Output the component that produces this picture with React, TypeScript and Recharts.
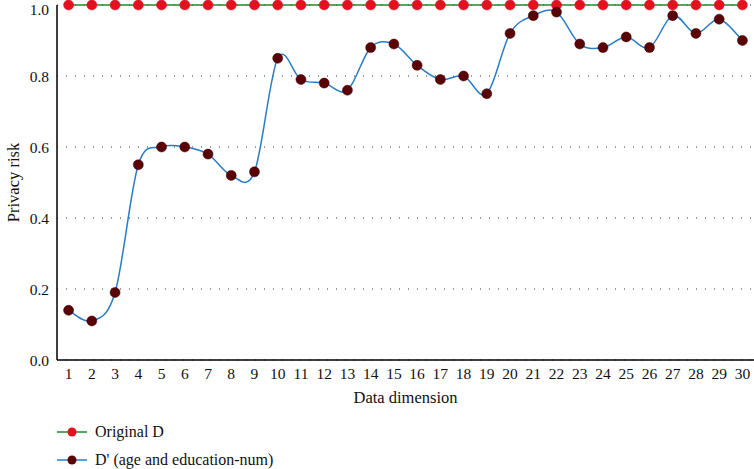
import { LineChart, Line, XAxis, YAxis, CartesianGrid, Legend } from "recharts";

const dimensions = Array.from({ length: 30 }, (_, i) => String(i + 1));

const originalRisk = [
  1, 1, 1, 1, 1, 1, 1, 1, 1, 1, 1, 1, 1, 1, 1,
  1, 1, 1, 1, 1, 1, 1, 1, 1, 1, 1, 1, 1, 1, 1,
];

const anonymisedRisk = [
  0.14, 0.11, 0.19, 0.55, 0.6, 0.6, 0.58, 0.52, 0.53, 0.85,
  0.79, 0.78, 0.76, 0.88, 0.89, 0.83, 0.79, 0.8, 0.75, 0.92,
  0.97, 0.98, 0.89, 0.88, 0.91, 0.88, 0.97, 0.92, 0.96, 0.9,
];

const yTicks = [0, 0.2, 0.4, 0.6, 0.8, 1.0];

const data = dimensions.map((d, i) => ({
  dim: d,
  original: originalRisk[i],
  anon: anonymisedRisk[i],
}));

const FONT = '"Liberation Serif", "DejaVu Serif", serif';

// catmull-rom style smoothing (passes through every point, overshoots a bit)
function smoothCurve(context: any) {
  let pts: [number, number][] = [];
  return {
    areaStart() {},
    areaEnd() {},
    lineStart() {
      pts = [];
    },
    lineEnd() {
      if (!pts.length) return;
      context.moveTo(pts[0][0], pts[0][1]);
      for (let i = 0; i < pts.length - 1; i++) {
        const p0 = pts[Math.max(i - 1, 0)];
        const p1 = pts[i];
        const p2 = pts[i + 1];
        const p3 = pts[Math.min(i + 2, pts.length - 1)];
        context.bezierCurveTo(
          p1[0] + (p2[0] - p0[0]) / 6,
          p1[1] + (p2[1] - p0[1]) / 6,
          p2[0] - (p3[0] - p1[0]) / 6,
          p2[1] - (p3[1] - p1[1]) / 6,
          p2[0],
          p2[1]
        );
      }
    },
    point(x: number, y: number) {
      pts.push([+x, +y]);
    },
  };
}

const legendItems = [
  { label: "Original D", line: "#1f8a2c", dot: "#e3101e" },
  { label: "D' (age and education-num)", line: "#2a7cc4", dot: "#5a0306" },
];

function LegendBox() {
  return (
    <div style={{ height: 58, paddingLeft: 57, fontFamily: FONT, fontSize: 16, color: "#111", boxSizing: "border-box" }}>
      <div style={{ paddingTop: 7 }}>
        {legendItems.map((it) => (
          <div key={it.label} style={{ display: "flex", alignItems: "center", height: 28 }}>
            <svg width={32} height={12} style={{ marginRight: 6 }}>
              <line x1={0} y1={6} x2={30} y2={6} stroke={it.line} strokeWidth={1.5} />
              <circle cx={15} cy={6} r={4.5} fill={it.dot} />
            </svg>
            <span>{it.label}</span>
          </div>
        ))}
      </div>
    </div>
  );
}

export default function App() {
  return (
    <div style={{ position: "absolute", left: 0, top: 0, background: "#fff" }}>
      <LineChart
        width={754}
        height={469}
        data={data}
        margin={{ top: 5, right: 0, bottom: 0, left: 0 }}
        style={{ fontFamily: FONT }}
      >
        <CartesianGrid vertical={false} stroke="#333" strokeDasharray="1 8" />
        <XAxis
          dataKey="dim"
          height={51}
          padding={{ left: 11.6, right: 11.6 }}
          tickLine={false}
          axisLine={{ stroke: "#000", strokeWidth: 1.5 }}
          tick={{ fill: "#111", fontSize: 15.5, fontFamily: FONT }}
          interval={0}
          label={{
            value: "Data dimension",
            position: "insideBottom",
            offset: 8,
            fill: "#111",
            fontSize: 16.5,
            fontFamily: FONT,
          }}
        />
        <YAxis
          width={57}
          domain={[0, 1]}
          ticks={yTicks}
          tickFormatter={(v: number) => v.toFixed(1)}
          tickLine={false}
          axisLine={{ stroke: "#000", strokeWidth: 1.5 }}
          tick={{ fill: "#111", fontSize: 15.5, fontFamily: FONT }}
          label={{
            value: "Privacy risk",
            angle: -90,
            position: "insideLeft",
            offset: 13,
            style: { textAnchor: "middle" },
            fill: "#111",
            fontSize: 16.5,
            fontFamily: FONT,
          }}
        />
        <Legend verticalAlign="bottom" align="left" content={() => <LegendBox />} />
        <Line
          dataKey="original"
          stroke="#1f8a2c"
          strokeWidth={1.5}
          dot={{ r: 5, fill: "#e3101e", stroke: "#e3101e", strokeWidth: 0.5 }}
          isAnimationActive={false}
        />
        <Line
          dataKey="anon"
          type={smoothCurve as any}
          stroke="#2a7cc4"
          strokeWidth={1.5}
          dot={{ r: 5, fill: "#5a0306", stroke: "#3a0003", strokeWidth: 0.5 }}
          isAnimationActive={false}
        />
      </LineChart>
    </div>
  );
}
